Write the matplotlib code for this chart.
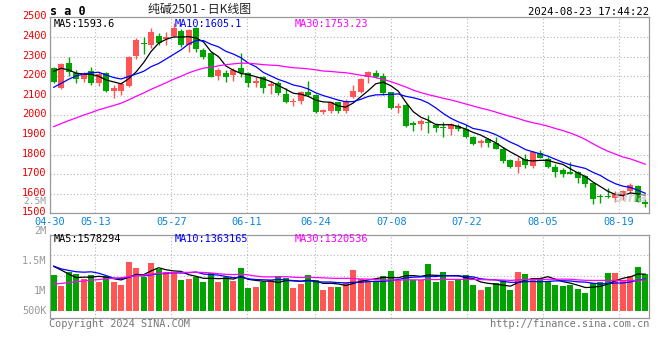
import matplotlib
matplotlib.use("Agg")
import matplotlib.pyplot as plt
import matplotlib.transforms as mtransforms
import numpy as np
import pandas as pd

# ---------------- data ----------------
holidays = ["2024-05-01", "2024-05-02", "2024-05-03", "2024-06-10"]
dates = [d for d in pd.bdate_range("2024-04-30", "2024-08-23")
         if d.strftime("%Y-%m-%d") not in holidays]
date_labels = [d.strftime("%m-%d") for d in dates]
shown_dates = ["04-30", "05-13", "05-27", "06-11", "06-24",
               "07-08", "07-22", "08-05", "08-19"]

open_ = [2240, 2141, 2268, 2214, 2185, 2226, 2163, 2218, 2126, 2126,
         2150, 2303, 2367, 2359, 2405, 2391, 2405, 2432, 2359, 2444,
         2333, 2316, 2201, 2218, 2206, 2240, 2218, 2163, 2197, 2151,
         2163, 2109, 2068, 2075, 2121, 2104, 2019, 2024, 2066, 2024,
         2095, 2117, 2194, 2214, 2200, 2117, 2036, 2053, 1959, 1956,
         1968, 1951, 1942, 1928, 1945, 1928, 1891, 1857, 1877, 1860,
         1830, 1772, 1738, 1775, 1741, 1806, 1777, 1738, 1721, 1712,
         1712, 1692, 1653, 1590, 1590, 1576, 1593, 1614, 1641, 1559]
high = [2248, 2265, 2296, 2231, 2223, 2248, 2223, 2223, 2155, 2172,
        2303, 2393, 2400, 2447, 2418, 2427, 2469, 2439, 2440, 2449,
        2342, 2325, 2240, 2231, 2240, 2316, 2223, 2194, 2201, 2177,
        2175, 2140, 2087, 2126, 2175, 2107, 2032, 2070, 2070, 2085,
        2155, 2189, 2226, 2231, 2214, 2121, 2061, 2056, 1971, 1980,
        2002, 1963, 1968, 1959, 1956, 1951, 1894, 1877, 1886, 1888,
        1837, 1779, 1789, 1803, 1818, 1823, 1789, 1750, 1730, 1763,
        1716, 1695, 1656, 1597, 1631, 1614, 1619, 1653, 1644, 1573]
low = [2163, 2133, 2201, 2163, 2172, 2155, 2150, 2121, 2087, 2104,
       2143, 2286, 2315, 2342, 2359, 2359, 2398, 2350, 2325, 2325,
       2287, 2194, 2180, 2172, 2175, 2197, 2143, 2143, 2116, 2109,
       2104, 2065, 2050, 2058, 2099, 2012, 2008, 2014, 2014, 2014,
       2087, 2112, 2163, 2189, 2104, 2031, 2014, 1942, 1920, 1925,
       1911, 1917, 1891, 1899, 1922, 1882, 1849, 1840, 1840, 1826,
       1755, 1733, 1707, 1730, 1730, 1781, 1733, 1687, 1687, 1699,
       1656, 1636, 1546, 1551, 1576, 1556, 1568, 1602, 1556, 1534]
close = [2172, 2260, 2223, 2185, 2211, 2167, 2211, 2126, 2138, 2160,
         2299, 2384, 2362, 2423, 2371, 2398, 2444, 2359, 2435, 2338,
         2296, 2197, 2231, 2194, 2231, 2214, 2167, 2177, 2141, 2160,
         2116, 2070, 2075, 2117, 2104, 2019, 2027, 2066, 2022, 2075,
         2124, 2185, 2223, 2197, 2115, 2036, 2048, 1945, 1951, 1973,
         1959, 1937, 1937, 1956, 1928, 1891, 1852, 1871, 1857, 1830,
         1769, 1738, 1769, 1745, 1815, 1784, 1738, 1712, 1699, 1702,
         1678, 1648, 1573, 1582, 1582, 1597, 1614, 1644, 1559, 1546]
# volume, thousands of lots
volume_k = [1538, 1064, 1679, 1581, 1366, 1538, 1249, 1493, 1249, 1103,
            2118, 1854, 1435, 2069, 1786, 1679, 1610, 1327, 1366, 1435,
            1240, 1610, 1249, 1435, 1279, 1825, 966, 1025, 1249, 1327,
            1493, 1396, 976, 1152, 1538, 1327, 888, 1005, 1005, 1210,
            1757, 1366, 1279, 1279, 1493, 1708, 1327, 1708, 1327, 1327,
            2011, 1249, 1649, 1298, 1366, 1542, 1103, 888, 1005, 1181,
            1327, 888, 1649, 1581, 1425, 1396, 1279, 1103, 1064, 1103,
            937, 781, 1181, 1249, 1610, 1610, 1327, 1493, 1864, 1581]
# 29 sessions before 04-30 (estimated from where the MA lines start)
prior_close = [1780, 1775, 1770, 1780, 1790, 1785, 1795, 1800, 1805, 1811,
               1830, 1850, 1860, 1880, 1890, 1900, 1910, 1920, 1940, 1959,
               2060, 2013, 2015, 2111, 2106, 2185, 2268, 2265, 2235]
prior_volume_k = [440, 440, 470, 490, 490, 510, 490, 540, 540, 590,
                  680, 730, 780, 880, 980, 1070, 1170, 1270, 1370, 1460,
                  2240, 2340, 2150, 1560, 1370, 1850, 2540, 2340, 1270]

# values printed in the chart's MA legends
ma_windows = [5, 10, 30]
price_ma_last = ["1593.6", "1605.1", "1753.23"]
volume_ma_last = ["1578294", "1363165", "1320536"]

price_ticks = [1500, 1600, 1700, 1800, 1900, 2000, 2100, 2200, 2300, 2400, 2500]
volume_axis_labels = ["2M", "1.5M", "1M", "500K"]

# ---------------- derived ----------------
n = len(close)
o = np.array(open_, float); h = np.array(high, float)
l = np.array(low, float); c = np.array(close, float)
v = np.array(volume_k, float)
x = np.arange(n)

def ma(prior, series, w):
    s = pd.Series(list(prior) + list(series), dtype=float)
    return s.rolling(w).mean().to_numpy()[len(prior):]

price_mas = [ma(prior_close, close, w) for w in ma_windows]
volume_mas = [ma(prior_volume_k, volume_k, w) for w in ma_windows]
MA_COLORS = ["black", "#0000ff", "#ff00ff"]

RED = "#ff5555"
GREEN = "#00a300"
up = c >= o
cols = np.where(up, RED, GREEN)

W, H = 660, 360
fig = plt.figure(figsize=(W / 100, H / 100), dpi=100)
fig.patch.set_facecolor("white")

def rect(left, top, right, bottom):
    return [left / W, 1 - bottom / H, (right - left) / W, (bottom - top) / H]

def ftext(px, py, s, **kw):
    kw.setdefault("va", "center")
    return fig.text(px / W, 1 - py / H, s, **kw)

MONO = "DejaVu Sans Mono"
GRID = dict(color="#b4b4b4", linestyle=(0, (1, 2)), linewidth=0.8)
SPINE = "#9a9a9a"

axp = fig.add_axes(rect(50, 17.3, 649, 213.3))
axv = fig.add_axes(rect(50, 234.7, 649, 317.7))

# date grid: Sina spreads its date grid over n-1 steps
grid_idx = [date_labels.index(d) for d in shown_dates]
grid_x = [-0.5 + i * n / (n - 1) for i in grid_idx]

for ax in (axp, axv):
    ax.set_xlim(-0.5, n - 0.5)
    ax.set_axisbelow(True)
    for sp in ax.spines.values():
        sp.set_color(SPINE)
        sp.set_linewidth(0.9)
    ax.tick_params(length=0)
    ax.set_xticks(grid_x)
    ax.grid(True, **GRID)

# ---- price panel ----
axp.set_ylim(price_ticks[0], price_ticks[-1])
axp.set_yticks(price_ticks)
axp.set_yticklabels([str(t) for t in price_ticks], color="#ee0000",
                    fontsize=7.4, family=MONO)
axp.tick_params(axis="y", pad=2.5)
up_shift = mtransforms.ScaledTranslation(0, 1.3 / 72, fig.dpi_scale_trans)
for t in axp.get_yticklabels():
    t.set_transform(t.get_transform() + up_shift)
axp.set_xticklabels(shown_dates, color="#0a84dc", fontsize=7.4, family=MONO)
axp.tick_params(axis="x", pad=2.5)

body_bot = np.minimum(o, c)
body_h = np.maximum(np.abs(c - o), 4)
axp.vlines(x, l, h, colors=cols, linewidth=1.0, zorder=2)
axp.bar(x, body_h, bottom=body_bot, width=0.8, color=cols, linewidth=0, zorder=3)
for line, col in zip(price_mas, MA_COLORS):
    axp.plot(x, line, color=col, lw=0.9, zorder=4)

# ---- volume panel ----
px_per_k = 43.1           # thousand lots per pixel
vlo, vhi = -(317.7 - 310.7) * px_per_k, (310.7 - 234.7) * px_per_k
axv.set_ylim(vlo, vhi)
axv.set_yticks([vlo + k * (vhi - vlo) / 4 for k in range(1, 4)])
axv.set_yticklabels([])
axv.set_xticklabels([])
axv.bar(x, v, width=0.8, color=cols, linewidth=0, zorder=3)
for line, col in zip(volume_mas, MA_COLORS):
    axv.plot(x, line, color=col, lw=0.9, zorder=4)

# ---- texts ----
fs = 7.4
ftext(50, 11.5, "s a 0", fontsize=8.5, family=MONO, weight="bold", color="black")
ftext(200, 9.5, "纯碱2501 - 日K线图", fontsize=8.6, ha="center",
      family=["Noto Sans CJK SC", "DejaVu Sans"], color="#222222")
ftext(649, 12, "2024-08-23 17:44:22", fontsize=7.6, ha="right", family=MONO,
      color="black")

legend_x = [54, 175, 295]
for px, w, val, col in zip(legend_x, ma_windows, price_ma_last, MA_COLORS):
    ftext(px, 24, f"MA{w}:{val}", fontsize=fs, family=MONO, color=col)
for px, w, val, col in zip(legend_x, ma_windows, volume_ma_last, MA_COLORS):
    ftext(px, 238.5, f"MA{w}:{val}", fontsize=fs, family=MONO, color=col)

GRAYTXT = "#999999"
ftext(46.5, 201.5, "2.5M", fontsize=6.8, family=MONO, ha="right", color=GRAYTXT)
for lab, py in zip(volume_axis_labels, [231, 260.7, 290.7, 310.7]):
    ftext(46.5, py, lab, fontsize=fs, family=MONO, ha="right", color=GRAYTXT)

ftext(49, 324, "Copyright 2024 SINA.COM", fontsize=fs, family=MONO, color="#777777")
ftext(649, 324, "http://finance.sina.com.cn", fontsize=fs, family=MONO, ha="right",
      color="#777777")

ftext(631, 198, "Sina", fontsize=10, ha="center", style="italic", weight="bold",
      color="#c8c8c8", alpha=0.75, zorder=10)

fig.savefig("out.png", dpi=100, facecolor="white")
